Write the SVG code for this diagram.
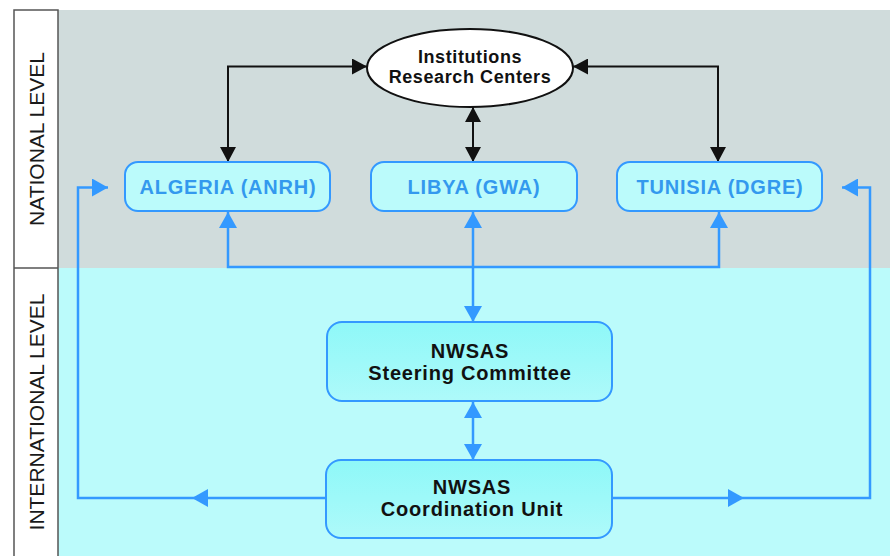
<svg xmlns="http://www.w3.org/2000/svg" width="890" height="556" viewBox="0 0 890 556">
<style>
.lvl{font-family:"Liberation Sans",Arial,sans-serif;font-size:21px;fill:#1a1a1a;text-anchor:middle}
.ctry rect{fill:#bbfbfb;stroke:#3399ff;stroke-width:2}
.ctry text{font-family:"Liberation Sans",Arial,sans-serif;font-size:20px;font-weight:bold;fill:#3399ee;text-anchor:middle;letter-spacing:0.8px}
.nw rect{fill:url(#g);stroke:#3399ff;stroke-width:2}
.dark{font-family:"Liberation Sans",Arial,sans-serif;font-weight:bold;fill:#111;text-anchor:middle}
.bl{fill:none;stroke:#3399ff;stroke-width:2.5;marker-end:url(#ab)}
.bk{fill:none;stroke:#111;stroke-width:2;marker-end:url(#ak)}
</style>
<defs>
<linearGradient id="g" x1="0" y1="0" x2="0" y2="1">
<stop offset="0" stop-color="#8ef8f8"/>
<stop offset="1" stop-color="#aefafa"/>
</linearGradient>
<marker id="ab" viewBox="0 0 16 18" refX="16" refY="9" markerWidth="16" markerHeight="18" markerUnits="userSpaceOnUse" orient="auto-start-reverse">
<path d="M0,0 L16,9 L0,18 z" fill="#3399ff"/>
</marker>
<marker id="ak" viewBox="0 0 15 16" refX="15" refY="8" markerWidth="15" markerHeight="16" markerUnits="userSpaceOnUse" orient="auto-start-reverse">
<path d="M0,0 L15,8 L0,16 z" fill="#111"/>
</marker>
</defs>
<rect x="0" y="0" width="890" height="556" fill="#ffffff"/>
<g id="background">
<rect x="58" y="10" width="832" height="258" fill="#d0dcdc"/>
<rect x="58" y="268" width="832" height="288" fill="#bbfbfb"/>
<rect x="14" y="10" width="44" height="560" fill="#ffffff" stroke="#555" stroke-width="1.5"/>
<line x1="14" y1="268" x2="58" y2="268" stroke="#555" stroke-width="1.5"/>
<text class="lvl" transform="translate(43.5,139) rotate(-90)">NATIONAL LEVEL</text>
<text class="lvl" transform="translate(43.5,412) rotate(-90)">INTERNATIONAL LEVEL</text>
</g>
<g id="connectors">
<path class="bk" style="marker-start:url(#ak)" d="M367,66.5 H228 V162"/>
<path class="bk" style="marker-start:url(#ak)" d="M573,66.5 H718 V162"/>
<path class="bk" style="marker-start:url(#ak)" d="M473,107 V162"/>
<path class="bl" style="marker-start:url(#ab)" d="M228,212 V267 H719 V212"/>
<path class="bl" style="marker-start:url(#ab)" d="M473,212 V322"/>
<path class="bl" style="marker-start:url(#ab)" d="M473,402 V460"/>
<path class="bl" d="M326,498 H192"/>
<path class="bl" d="M192,498 H78 V187.5 H108"/>
<path class="bl" d="M612,498 H744"/>
<path class="bl" d="M744,498 H870 V187.5 H842"/>
</g>
<g id="institutions">
<ellipse cx="470" cy="68" rx="103" ry="39" fill="#ffffff" stroke="#111" stroke-width="2"/>
<text class="dark" x="470" y="63" font-size="18" letter-spacing="0.6">Institutions</text>
<text class="dark" x="470" y="83" font-size="18" letter-spacing="0.6">Research Centers</text>
</g>
<g id="algeria" class="ctry">
<rect x="125" y="162" width="205" height="49" rx="13"/>
<text x="228" y="194">ALGERIA (ANRH)</text>
</g>
<g id="libya" class="ctry">
<rect x="371" y="162" width="206" height="49" rx="13"/>
<text x="474" y="194">LIBYA (GWA)</text>
</g>
<g id="tunisia" class="ctry">
<rect x="617" y="162" width="205" height="49" rx="13"/>
<text x="720" y="194">TUNISIA (DGRE)</text>
</g>
<g id="steering" class="nw">
<rect x="327" y="322" width="285" height="79" rx="15"/>
<text class="dark" x="470" y="358" font-size="20" letter-spacing="0.8">NWSAS</text>
<text class="dark" x="470" y="380" font-size="20" letter-spacing="0.8">Steering Committee</text>
</g>
<g id="coordination" class="nw">
<rect x="326" y="460" width="286" height="78" rx="15"/>
<text class="dark" x="472" y="494" font-size="20" letter-spacing="0.8">NWSAS</text>
<text class="dark" x="472" y="516" font-size="20" letter-spacing="0.8">Coordination Unit</text>
</g>
</svg>
